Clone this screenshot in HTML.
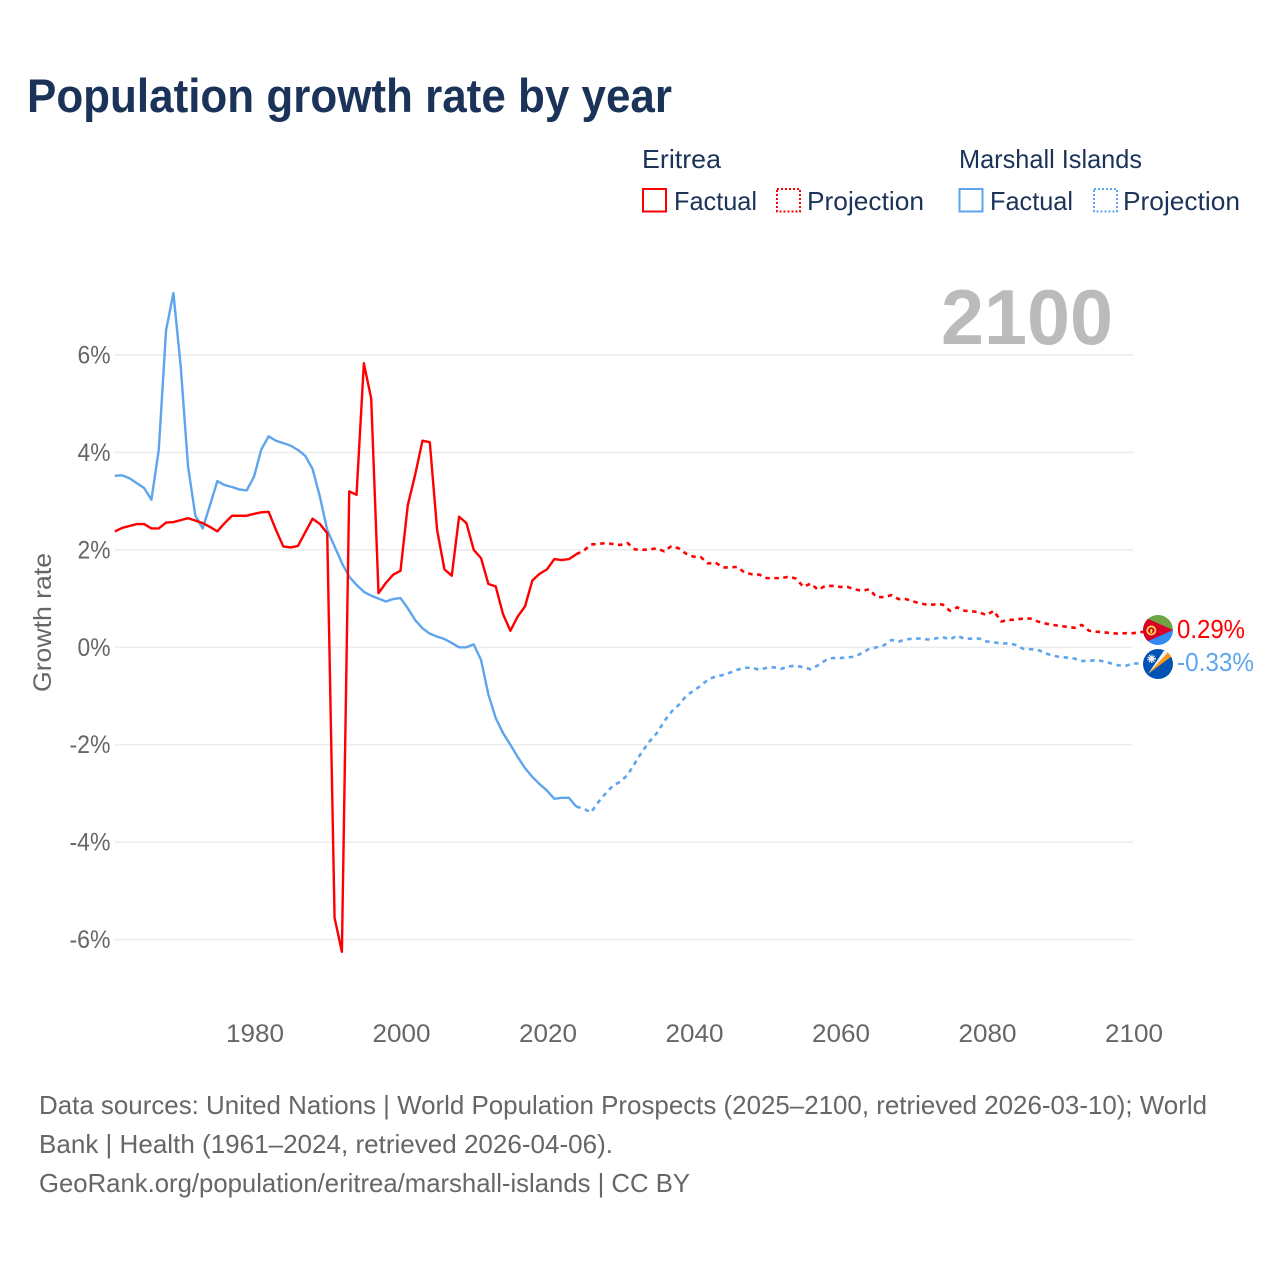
<!DOCTYPE html>
<html lang="en">
<head>
<meta charset="utf-8">
<title>Population growth rate by year</title>
<style>
  html, body { margin: 0; padding: 0; background: #fff; }
  svg { display: block; font-family: "Liberation Sans", sans-serif; }
  .dark { fill: #1b3358; }
  .grey { fill: #666; }
</style>
</head>
<body>
<svg id="chart" xmlns="http://www.w3.org/2000/svg" width="1280" height="1280" viewBox="0 0 1280 1280">
  <rect x="0" y="0" width="1280" height="1280" fill="#fff"/>
  <text class="dark" x="27" y="112" font-size="47" font-weight="700" textLength="645" lengthAdjust="spacingAndGlyphs">Population growth rate by year</text>

  <g>
    <text class="dark" x="642" y="168" font-size="26" textLength="79" lengthAdjust="spacingAndGlyphs">Eritrea</text>
    <rect x="643" y="189" width="23" height="22.5" fill="none" stroke="#ff0000" stroke-width="2"/>
    <text class="dark" x="674" y="210" font-size="26" textLength="83" lengthAdjust="spacingAndGlyphs">Factual</text>
    <rect x="777" y="189" width="23" height="22.5" fill="none" stroke="#ff0000" stroke-width="2" stroke-dasharray="2 2"/>
    <text class="dark" x="807" y="210" font-size="26" textLength="117" lengthAdjust="spacingAndGlyphs">Projection</text>

    <text class="dark" x="959" y="168" font-size="26" textLength="183" lengthAdjust="spacingAndGlyphs">Marshall Islands</text>
    <rect x="959.5" y="189" width="23" height="22.5" fill="none" stroke="#5ea5ee" stroke-width="2"/>
    <text class="dark" x="990" y="210" font-size="26" textLength="83" lengthAdjust="spacingAndGlyphs">Factual</text>
    <rect x="1094" y="189" width="23" height="22.5" fill="none" stroke="#5ea5ee" stroke-width="2" stroke-dasharray="2 2"/>
    <text class="dark" x="1123" y="210" font-size="26" textLength="117" lengthAdjust="spacingAndGlyphs">Projection</text>
  </g>

  <g id="grid"></g>
  <text x="941" y="344" font-size="78" font-weight="700" fill="#bbbbbb" textLength="172" lengthAdjust="spacingAndGlyphs">2100</text>
  <g id="yTicks"></g>
  <g id="xTicks"></g>
  <text class="grey" transform="translate(51 692) rotate(-90)" x="0" y="0" font-size="25" textLength="139" lengthAdjust="spacingAndGlyphs">Growth rate</text>

  <g id="series"></g>

  <defs>
    <clipPath id="flagClip"><circle cx="0" cy="0" r="15"/></clipPath>
  </defs>

  <g id="flagEritrea">
    <g clip-path="url(#flagClip)">
      <rect x="-16" y="-16" width="32" height="16" fill="#6da544"/>
      <rect x="-16" y="0" width="32" height="16" fill="#338af3"/>
      <polygon points="-22,-16.5 15,0 -22,16.5" fill="#d80027"/>
      <circle cx="-6.7" cy="0.5" r="5" fill="#ffda44"/>
      <circle cx="-6.7" cy="0.5" r="3.2" fill="#d80027"/>
      <rect x="-7.7" y="-1" width="2" height="4" fill="#ffda44"/>
    </g>
  </g>
  <g id="flagMarshall">
    <g clip-path="url(#flagClip)">
      <rect x="-16" y="-16" width="32" height="32" fill="#0052b4"/>
      <polygon points="-10,10 7,-15 10.5,-12" fill="#f0f0f0"/>
      <polygon points="-10,10 10.5,-12 14,-8" fill="#ff9811"/>
      <circle cx="-6.5" cy="-5.3" r="2.8" fill="#f0f0f0"/>
      <circle cx="-6.5" cy="-5.3" r="3.6" fill="none" stroke="#f0f0f0" stroke-width="1.4" stroke-dasharray="1.2 1.2"/>
    </g>
  </g>
  <text id="endLabelEritrea" x="1177" font-size="25.5" fill="#ff0000" textLength="68" lengthAdjust="spacingAndGlyphs"></text>
  <text id="endLabelMarshall" x="1177" font-size="25.5" fill="#5ea5ee" textLength="77" lengthAdjust="spacingAndGlyphs"></text>

  <g>
    <text class="grey" x="39" y="1114" font-size="26" textLength="1168" lengthAdjust="spacingAndGlyphs">Data sources: United Nations | World Population Prospects (2025–2100, retrieved 2026-03-10); World</text>
    <text class="grey" x="39" y="1153" font-size="26" textLength="574" lengthAdjust="spacingAndGlyphs">Bank | Health (1961–2024, retrieved 2026-04-06).</text>
    <text class="grey" x="39" y="1192" font-size="26" textLength="651" lengthAdjust="spacingAndGlyphs">GeoRank.org/population/eritrea/marshall-islands | CC BY</text>
  </g>
</svg>

<script>
const factualYears = [1961,1962,1963,1964,1965,1966,1967,1968,1969,1970,1971,1972,1973,1974,1975,1976,1977,1978,1979,1980,1981,1982,1983,1984,1985,1986,1987,1988,1989,1990,1991,1992,1993,1994,1995,1996,1997,1998,1999,2000,2001,2002,2003,2004,2005,2006,2007,2008,2009,2010,2011,2012,2013,2014,2015,2016,2017,2018,2019,2020,2021,2022,2023,2024];
const projectionYears = [2025,2026,2027,2028,2029,2030,2031,2032,2033,2034,2035,2036,2037,2038,2039,2040,2041,2042,2043,2044,2045,2046,2047,2048,2049,2050,2051,2052,2053,2054,2055,2056,2057,2058,2059,2060,2061,2062,2063,2064,2065,2066,2067,2068,2069,2070,2071,2072,2073,2074,2075,2076,2077,2078,2079,2080,2081,2082,2083,2084,2085,2086,2087,2088,2089,2090,2091,2092,2093,2094,2095,2096,2097,2098,2099,2100];

const eritreaFactual = [2.38,2.45,2.49,2.53,2.53,2.44,2.44,2.56,2.57,2.61,
  2.65,2.60,2.55,2.47,2.38,2.55,2.70,2.70,2.70,2.74,
  2.77,2.78,2.41,2.07,2.05,2.08,2.36,2.64,2.53,2.34,
  -5.55,-6.25,3.20,3.13,5.83,5.11,1.11,1.32,1.49,1.57,
  2.92,3.54,4.24,4.21,2.41,1.60,1.47,2.68,2.55,2.00,
  1.83,1.30,1.25,0.68,0.34,0.63,0.84,1.37,1.51,1.60,
  1.81,1.79,1.81,1.91];

const eritreaProjection = [1.98,2.11,2.12,2.14,2.12,2.10,2.14,2.01,2.00,2.01,2.03,1.97,2.08,2.03,1.92,1.86,
  1.85,1.72,1.74,1.64,1.64,1.65,1.53,1.50,1.49,1.42,1.42,1.42,1.45,1.41,1.24,1.31,1.18,1.26,1.26,1.24,
  1.24,1.19,1.16,1.19,1.03,1.03,1.07,0.99,0.99,0.94,0.90,0.87,0.88,0.88,0.75,0.82,0.75,0.74,0.72,
  0.66,0.75,0.53,0.56,0.57,0.59,0.59,0.53,0.49,0.46,0.44,0.42,0.40,0.46,0.34,0.32,0.31,0.29,0.28,0.29,0.29];

const marshallFactual = [3.52,3.53,3.47,3.37,3.27,3.03,4.05,6.51,7.27,5.76,
  3.71,2.70,2.44,2.92,3.41,3.33,3.29,3.24,3.22,3.50,
  4.06,4.33,4.24,4.19,4.14,4.05,3.93,3.66,3.09,2.41,
  2.07,1.73,1.45,1.28,1.14,1.06,1.00,0.94,0.99,1.01,
  0.80,0.56,0.39,0.28,0.22,0.17,0.09,0.00,0.00,0.06,
  -0.26,-0.97,-1.45,-1.76,-2.00,-2.25,-2.48,-2.66,-2.81,-2.94,
  -3.11,-3.09,-3.09,-3.27];

const marshallProjection = [-3.31,-3.39,-3.18,-3.00,-2.84,-2.76,-2.62,-2.38,-2.14,-1.93,-1.76,-1.52,-1.32,-1.18,-1.00,-0.89,
  -0.79,-0.66,-0.60,-0.57,-0.52,-0.46,-0.42,-0.42,-0.46,-0.42,-0.41,-0.44,-0.39,-0.38,-0.41,-0.45,-0.37,-0.27,-0.22,-0.22,
  -0.21,-0.19,-0.12,-0.03,0.00,0.04,0.15,0.12,0.16,0.18,0.18,0.16,0.18,0.21,0.16,0.24,0.17,0.18,0.18,
  0.12,0.10,0.08,0.08,0.05,-0.03,-0.04,-0.05,-0.12,-0.17,-0.20,-0.21,-0.23,-0.28,-0.28,-0.26,-0.29,-0.33,-0.37,-0.38,-0.33];

const yTickValues = [6,4,2,0,-2,-4,-6];
const xTickYears = [1980,2000,2020,2040,2060,2080,2100];

const SVG_NS = 'http://www.w3.org/2000/svg';
const plotLeft = 114.8, plotRight = 1133, yearMin = 1961, yearMax = 2100;
const zeroY = 647.3, pxPerPercent = 48.72;

function xScale(year) {
  return plotLeft + (year - yearMin) * (plotRight - plotLeft) / (yearMax - yearMin);
}
function yScale(value) {
  return zeroY - value * pxPerPercent;
}
function svgEl(tag, attrs, parent) {
  const el = document.createElementNS(SVG_NS, tag);
  Object.keys(attrs).forEach(function (k) { el.setAttribute(k, attrs[k]); });
  parent.appendChild(el);
  return el;
}

const gridGroup = document.getElementById('grid');
const yTickGroup = document.getElementById('yTicks');
yTickValues.forEach(function (v) {
  const line = svgEl('line', { x1: plotLeft, x2: plotRight, y1: yScale(v), y2: yScale(v), stroke: '#ececec', 'stroke-width': 1.6 }, gridGroup);
  
  
  const label = v + '%';
  const t = svgEl('text', { x: 110.5, y: yScale(v) + 8.5, 'text-anchor': 'end', 'font-size': 25, fill: '#666', textLength: label.length === 2 ? 33 : 41, lengthAdjust: 'spacingAndGlyphs' }, yTickGroup);
  t.textContent = label;
  
  
});

const xTickGroup = document.getElementById('xTicks');
xTickYears.forEach(function (yr) {
  const t = svgEl('text', { x: xScale(yr) + 1, y: 1042, 'text-anchor': 'middle', 'font-size': 25, fill: '#666', textLength: 58, lengthAdjust: 'spacingAndGlyphs' }, xTickGroup);
  t.textContent = String(yr);
  
  
});

function toPoints(years, values) {
  return years.map(function (yr, i) { return xScale(yr).toFixed(2) + ',' + yScale(values[i]).toFixed(2); });
}

const seriesGroup = document.getElementById('series');
const flagX = 1158;
const flagYEritrea = yScale(eritreaProjection[eritreaProjection.length - 1]) - 3.2;
const flagYMarshall = yScale(marshallProjection[marshallProjection.length - 1]) + 0.6;

function drawProjection(color, factualValues, projectionValues, flagY) {
  const pts = [xScale(factualYears[factualYears.length - 1]).toFixed(2) + ',' + yScale(factualValues[factualValues.length - 1]).toFixed(2)]
    .concat(toPoints(projectionYears, projectionValues));
  pts.push(flagX + ',' + flagY.toFixed(2));
  return svgEl('polyline', { points: pts.join(' '), fill: 'none', stroke: color, 'stroke-width': 2.6, 'stroke-dasharray': '4.5 4.5', 'stroke-linejoin': 'round' }, seriesGroup);
}
function drawFactual(color, values) {
  return svgEl('polyline', { points: toPoints(factualYears, values).join(' '), fill: 'none', stroke: color, 'stroke-width': 2.4, 'stroke-linejoin': 'round' }, seriesGroup);
}

const marshallFactualLine = drawFactual('#5ea5ee', marshallFactual);


const marshallProjectionLine = drawProjection('#5ea5ee', marshallFactual, marshallProjection, flagYMarshall);


const eritreaFactualLine = drawFactual('#ff0000', eritreaFactual);


const eritreaProjectionLine = drawProjection('#ff0000', eritreaFactual, eritreaProjection, flagYEritrea);



document.getElementById('flagEritrea').setAttribute('transform', 'translate(' + flagX + ' ' + flagYEritrea + ')');
document.getElementById('flagMarshall').setAttribute('transform', 'translate(' + flagX + ' ' + flagYMarshall + ')');

const endEritrea = document.getElementById('endLabelEritrea');
endEritrea.setAttribute('y', flagYEritrea + 8);
endEritrea.textContent = eritreaProjection[eritreaProjection.length - 1].toFixed(2) + '%';
const endMarshall = document.getElementById('endLabelMarshall');
endMarshall.setAttribute('y', flagYMarshall + 7);
endMarshall.textContent = marshallProjection[marshallProjection.length - 1].toFixed(2) + '%';
</script>
</body>
</html>
